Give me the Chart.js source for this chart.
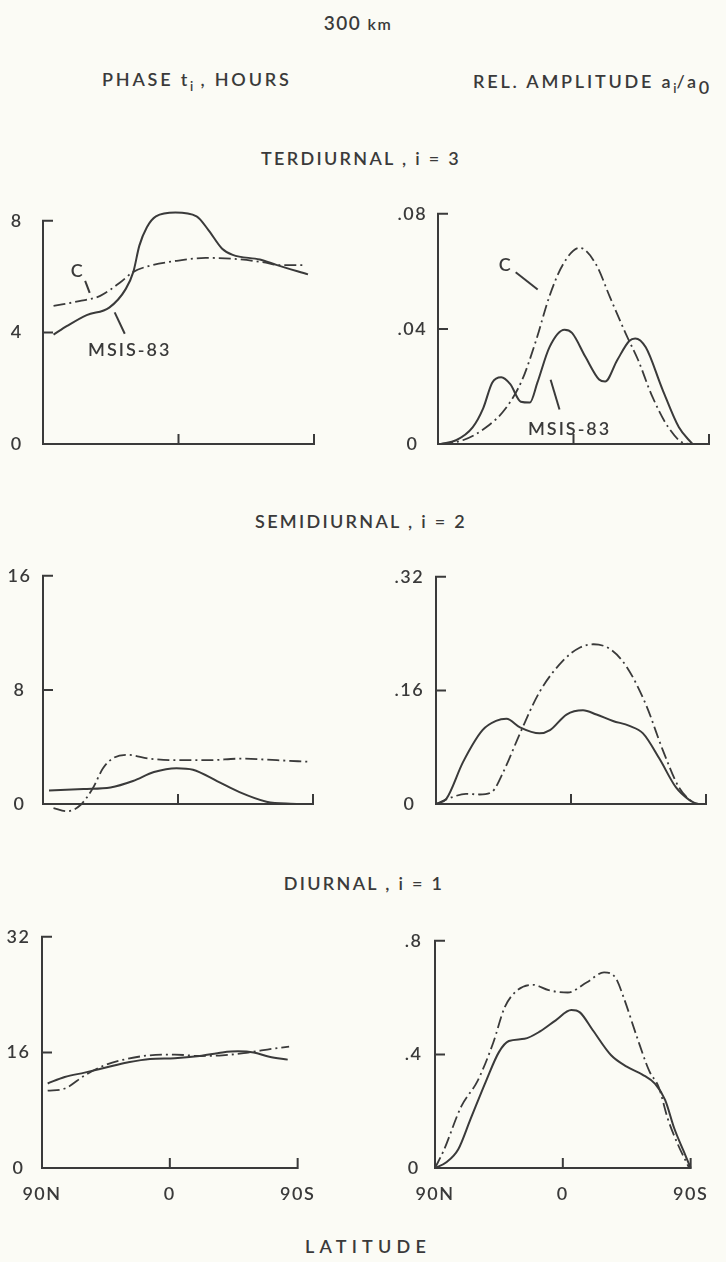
<!DOCTYPE html>
<html>
<head>
<meta charset="utf-8">
<title>300 km - tidal components</title>
<script src="https://cdn.jsdelivr.net/npm/chart.js@4.4.0/dist/chart.umd.min.js"></script>
<style>
  body { margin: 0; background: #fbfbf5; }
  #page { position: relative; width: 726px; height: 1262px; font-family: Lato, sans-serif; font-weight: 600; color: #3a3a3a; }
  .lbl { position: absolute; white-space: nowrap; font-size: 18px; line-height: 1; letter-spacing: 2.8px; }
  .lbl sub { font-size: 13px; vertical-align: -5px; letter-spacing: 0; }
  .mid { transform: translateX(-50%); letter-spacing: 2.3px; }
  canvas { position: absolute; }
</style>
</head>
<body>
<div id="page">
  <div class="lbl mid" style="left:358px;top:13px;font-size:19px;letter-spacing:1.5px">300 <span style="font-size:16px">km</span></div>
  <div class="lbl" style="left:102px;top:70px">PHASE t<sub>i</sub> , HOURS</div>
  <div class="lbl" style="left:473px;top:72px">REL. AMPLITUDE a<sub>i</sub>/a<sub style="font-size:18px;vertical-align:-6px">0</sub></div>
  <div class="lbl mid" style="left:361px;top:149px">TERDIURNAL , i = 3</div>
  <div class="lbl mid" style="left:361px;top:512px">SEMIDIURNAL , i = 2</div>
  <div class="lbl mid" style="left:364px;top:874px">DIURNAL , i = 1</div>
  <div class="lbl" style="left:305px;top:1237px;letter-spacing:5.2px">LATITUDE</div>
</div>
<script>
// latitude in degrees, 90N = +90 (left edge), 90S = -90 (right edge)
const latTicks = [90, 0, -90];
const latTickText = ['90N', '0', '90S'];

// terdiurnal, i = 3
const terPhaseMsisLat = [83, 74, 61, 46, 35, 30, 26, 21, 15, 2, -12, -20, -29, -36, -54, -65, -86];
const terPhaseMsis = [3.92, 4.23, 4.62, 4.89, 5.56, 6.17, 7.11, 7.77, 8.16, 8.3, 8.16, 7.66, 7.0, 6.78, 6.61, 6.42, 6.08];
const terPhaseCLat = [83, 66, 52, 39, 30, 19, 2, -18, -36, -58, -67, -84];
const terPhaseC = [4.95, 5.12, 5.31, 5.78, 6.17, 6.39, 6.56, 6.67, 6.64, 6.5, 6.41, 6.41];

const terAmpMsisLat = [88, 78, 67, 60, 54, 48, 42, 35, 29, 24, 16, 6, 1, -8, -17, -21, -29, -37, -41, -48, -59, -70, -79];
const terAmpMsis = [0, 0.0013, 0.0058, 0.0124, 0.0213, 0.0232, 0.0208, 0.0147, 0.0144, 0.0213, 0.0336, 0.0397, 0.0386, 0.0302, 0.0224, 0.0217, 0.0291, 0.0358, 0.0367, 0.0336, 0.0191, 0.0058, 0];
const terAmpCLat = [88, 73.5, 58, 45, 34, 25, 16, 7, -4, -15, -24, -35, -43, -52, -63, -74, -80];
const terAmpC = [0, 0.0013, 0.0058, 0.0124, 0.0224, 0.0358, 0.0513, 0.0624, 0.0682, 0.0624, 0.0513, 0.038, 0.0291, 0.0169, 0.0058, 0.0002, 0];

// semidiurnal, i = 2
const semiPhaseMsisLat = [86, 63, 45, 30, 16, 1, -10, -26, -41, -59, -75, -89];
const semiPhaseMsis = [0.94, 1.05, 1.16, 1.61, 2.24, 2.51, 2.4, 1.61, 0.83, 0.16, 0.02, 0];
const semiPhaseCLat = [83, 74, 65, 56.5, 50, 43, 34, 19, 1, -21, -41, -66, -87];
const semiPhaseC = [-0.29, -0.51, -0.07, 1.16, 2.51, 3.23, 3.45, 3.18, 3.07, 3.07, 3.18, 3.07, 2.96];

const semiAmpMsisLat = [90, 83, 72, 59, 50, 43, 34, 21, 14, 3, -8, -17, -28, -39, -48, -59, -70, -79, -84];
const semiAmpMsis = [0, 0.0076, 0.059, 0.104, 0.117, 0.12, 0.108, 0.0995, 0.104, 0.126, 0.132, 0.126, 0.117, 0.11, 0.0995, 0.0636, 0.0233, 0.0054, 0];
const semiAmpCLat = [90, 79, 70, 61, 53, 45, 34, 21, 5, -6, -15, -26, -37, -50, -61, -72, -81, -85];
const semiAmpC = [0, 0.0098, 0.0143, 0.0134, 0.0166, 0.0457, 0.0995, 0.1577, 0.2026, 0.2205, 0.225, 0.2183, 0.1936, 0.1398, 0.077, 0.0233, 0.003, 0];

// diurnal, i = 1
const diPhaseMsisLat = [86, 74, 60, 45, 30, 14, -3.5, -21, -37, -48, -59, -70, -83];
const diPhaseMsis = [11.7, 12.6, 13.2, 13.9, 14.6, 15.1, 15.2, 15.5, 16.0, 16.15, 16.0, 15.4, 15.0];
const diPhaseCLat = [86, 74, 60, 45, 30, 14, -3.5, -21, -37, -52, -59, -72, -84];
const diPhaseC = [10.7, 11.0, 12.8, 14.3, 15.1, 15.6, 15.7, 15.5, 15.6, 15.9, 16.1, 16.5, 16.8];

const diAmpMsisLat = [90, 82, 73.6, 65, 54, 45, 38, 27, 16, 5, -6, -12, -21, -34, -45, -56, -65, -72, -78.5, -85, -90];
const diAmpMsis = [0, 0.02, 0.066, 0.172, 0.307, 0.408, 0.447, 0.455, 0.481, 0.52, 0.556, 0.548, 0.486, 0.397, 0.357, 0.329, 0.296, 0.24, 0.139, 0.06, 0];
const diAmpCLat = [90, 84, 71.5, 60, 49, 41, 32, 21, 10, -3.5, -17, -29, -37, -43, -52, -61, -67.5, -74, -81, -89];
const diAmpC = [0, 0.06, 0.217, 0.307, 0.441, 0.565, 0.626, 0.645, 0.626, 0.618, 0.654, 0.689, 0.671, 0.598, 0.464, 0.34, 0.285, 0.172, 0.083, 0];

const ink = '#3a3a3a';
Chart.defaults.font.family = 'Lato, sans-serif';
Chart.defaults.font.size = 18;
Chart.defaults.font.weight = 600;
Chart.defaults.color = ink;

const pts = (lat, vals) => lat.map((la, i) => ({ x: la, y: vals[i] }));

const panels = [
  { x0: 43, x1: 314, top: 203, bottom: 444, yTicks: [0, 4, 8], yText: ['0', '4', '8'], pad: 21,
    msis: pts(terPhaseMsisLat, terPhaseMsis), c: pts(terPhaseCLat, terPhaseC),
    notes: [
      { text: 'C', at: [67, 6.18], from: [62, 5.85], to: [59, 5.42] },
      { text: 'MSIS-83', at: [32.4, 3.36], from: [42.4, 4.72], to: [35.7, 3.95] }
    ] },
  { x0: 438, x1: 709, top: 204, bottom: 444, yTicks: [0, 0.04, 0.08], yText: ['0', '.04', '.08'], pad: 13,
    msis: pts(terAmpMsisLat, terAmpMsis), c: pts(terAmpCLat, terAmpC),
    notes: [
      { text: 'C', at: [45, 0.0623], from: [38.4, 0.0597], to: [23.8, 0.0537] },
      { text: 'MSIS-83', at: [2.6, 0.0053], from: [15.2, 0.0223], to: [9.3, 0.012] }
    ] },
  { x0: 43, x1: 313, top: 566, bottom: 804, yTicks: [0, 8, 16], yText: ['0', '8', '16'], pad: 13,
    msis: pts(semiPhaseMsisLat, semiPhaseMsis), c: pts(semiPhaseCLat, semiPhaseC), notes: [] },
  { x0: 436, x1: 706, top: 566, bottom: 804, yTicks: [0, 0.16, 0.32], yText: ['0', '.16', '.32'], pad: 14,
    msis: pts(semiAmpMsisLat, semiAmpMsis), c: pts(semiAmpCLat, semiAmpC), notes: [] },
  { x0: 42, x1: 314, top: 927, bottom: 1168, yTicks: [0, 16, 32], yText: ['0', '16', '32'], pad: 13, xLabels: true,
    msis: pts(diPhaseMsisLat, diPhaseMsis), c: pts(diPhaseCLat, diPhaseC), notes: [] },
  { x0: 435, x1: 707, top: 930, bottom: 1168, yTicks: [0, 0.4, 0.8], yText: ['0', '.4', '.8'], pad: 14, xLabels: true,
    msis: pts(diAmpMsisLat, diAmpMsis), c: pts(diAmpCLat, diAmpC), notes: [] }
];

// axis frame with inward ticks, plus the curve labels and their leader lines
function frame(notes) {
  return {
    id: 'frame',
    beforeDraw(chart) {
      // spaced lettering for the tick labels too
      chart.ctx.letterSpacing = '1.5px';
    },
    afterDatasetsDraw(chart) {
      const { ctx, chartArea: a, scales: { x, y } } = chart;
      ctx.save();
      ctx.strokeStyle = ink;
      ctx.lineWidth = 2;
      ctx.lineCap = 'square';
      ctx.beginPath();
      ctx.moveTo(a.left, a.top);
      ctx.lineTo(a.left, a.bottom);
      ctx.lineTo(a.right, a.bottom);
      y.ticks.forEach(t => {
        if (t.value <= 0) return;
        const py = y.getPixelForValue(t.value);
        ctx.moveTo(a.left, py);
        ctx.lineTo(a.left + 9, py);
      });
      x.ticks.forEach(t => {
        if (t.value >= 90) return;
        const px = x.getPixelForValue(t.value);
        ctx.moveTo(px, a.bottom);
        ctx.lineTo(px, a.bottom - 9);
      });
      ctx.stroke();

      ctx.lineCap = 'butt';
      ctx.fillStyle = ink;
      ctx.font = '600 18px Lato, sans-serif';
      ctx.letterSpacing = '2px';
      ctx.textAlign = 'center';
      ctx.textBaseline = 'middle';
      notes.forEach(n => {
        ctx.beginPath();
        ctx.moveTo(x.getPixelForValue(n.from[0]), y.getPixelForValue(n.from[1]));
        ctx.lineTo(x.getPixelForValue(n.to[0]), y.getPixelForValue(n.to[1]));
        ctx.stroke();
        ctx.fillText(n.text, x.getPixelForValue(n.at[0]), y.getPixelForValue(n.at[1]));
      });
      ctx.restore();
    }
  };
}

const page = document.getElementById('page');
const LEFT = 44, TOP = 14, RIGHT = 14, BOTTOM = 40;

panels.forEach(p => {
  const cv = document.createElement('canvas');
  const w = p.x1 - p.x0 + LEFT + RIGHT;
  const h = p.bottom - p.top + TOP + BOTTOM;
  cv.width = w;
  cv.height = h;
  cv.style.left = (p.x0 - LEFT) + 'px';
  cv.style.top = (p.top - TOP) + 'px';
  page.appendChild(cv);

  const line = { borderColor: ink, borderWidth: 2, pointRadius: 0, cubicInterpolationMode: 'monotone', clip: false, borderCapStyle: 'butt' };

  new Chart(cv, {
    type: 'line',
    data: {
      datasets: [
        { label: 'MSIS-83', data: p.msis, ...line },
        { label: 'C', data: p.c, ...line, borderDash: [12, 4, 2, 4], borderWidth: 1.8 }
      ]
    },
    options: {
      responsive: false,
      animation: false,
      events: [],
      layout: { padding: { left: 0, top: TOP, right: RIGHT, bottom: 0 } },
      plugins: { legend: { display: false }, tooltip: { enabled: false } },
      scales: {
        x: {
          type: 'linear', reverse: true, min: -90, max: 90,
          grid: { display: false, drawTicks: false }, border: { display: false },
          afterBuildTicks: s => { s.ticks = latTicks.map(v => ({ value: v })); },
          afterFit: s => { s.height = BOTTOM; },
          ticks: {
            display: !!p.xLabels, padding: 15, maxRotation: 0,
            callback: v => latTickText[latTicks.indexOf(v)]
          }
        },
        y: {
          min: p.yTicks[0], max: p.yTicks[p.yTicks.length - 1],
          grid: { display: false, drawTicks: false }, border: { display: false },
          afterBuildTicks: s => { s.ticks = p.yTicks.map(v => ({ value: v })); },
          afterFit: s => { s.width = LEFT; },
          ticks: {
            padding: p.pad, crossAlign: 'center',
            callback: v => p.yText[p.yTicks.indexOf(v)]
          }
        }
      }
    },
    plugins: [frame(p.notes)]
  });
});
</script>
</body>
</html>
